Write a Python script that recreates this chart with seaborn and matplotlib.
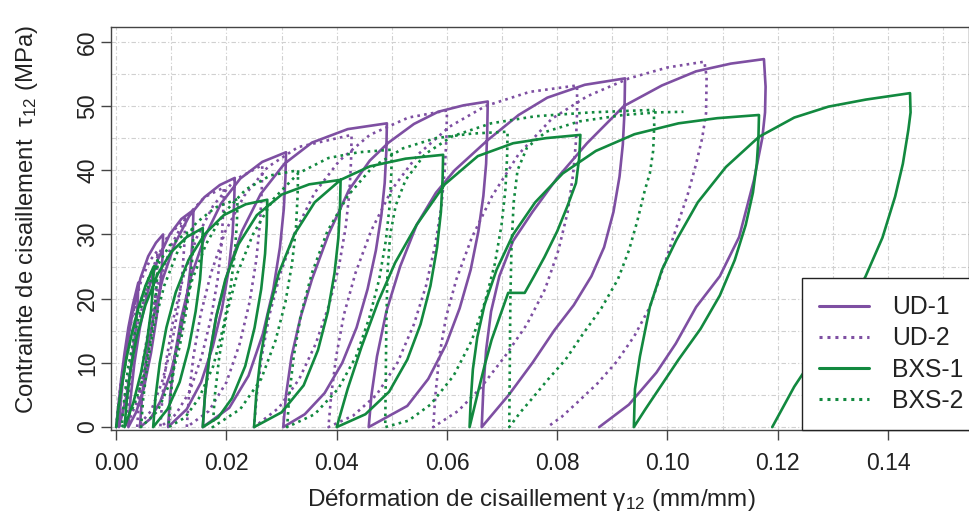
import matplotlib
matplotlib.use("Agg")
import matplotlib.pyplot as plt
from matplotlib.ticker import MultipleLocator, FixedLocator
import pandas as pd
import seaborn as sns

# ---------------- data (strain, stress in MPa) ----------------
ud1 = [
    (0.0000, 0.0), (0.0004, 3.5), (0.0009, 7.5), (0.0015, 11.5), (0.0022, 15.5), (0.0030, 19.0), (0.0040, 22.5),
    (0.0039, 19.5), (0.0035, 15.0), (0.0028, 10.0), (0.0019, 5.0), (0.0011, 2.0), (0.0005, 0.0),
    (0.0008, 4.0), (0.0014, 9.0), (0.0022, 14.0), (0.0032, 19.0), (0.0044, 23.2), (0.0058, 26.6), (0.0072, 28.7), (0.0085, 30.0),
    (0.0084, 26.5), (0.0080, 22.0), (0.0073, 17.0), (0.0063, 11.5), (0.0050, 6.0), (0.0036, 2.3), (0.0022, 0.0),
    (0.0026, 4.5), (0.0033, 10.0), (0.0043, 15.5), (0.0057, 21.0), (0.0075, 26.0), (0.0097, 30.0), (0.0118, 32.4), (0.0140, 33.8),
    (0.0139, 30.0), (0.0135, 25.0), (0.0127, 19.5), (0.0115, 14.0), (0.0099, 8.5), (0.0080, 4.0), (0.0062, 1.3), (0.0043, 0.0),
    (0.0047, 5.0), (0.0055, 11.0), (0.0067, 17.0), (0.0084, 23.0), (0.0106, 28.5), (0.0132, 32.8), (0.0160, 35.8), (0.0188, 37.7), (0.0215, 38.8),
    (0.0214, 35.0), (0.0211, 30.0), (0.0204, 24.5), (0.0192, 18.5), (0.0175, 12.5), (0.0154, 7.0), (0.0128, 2.8), (0.0094, 0.0),
    (0.0098, 5.0), (0.0106, 11.0), (0.0118, 17.0), (0.0136, 23.5), (0.0160, 29.5), (0.0190, 34.8), (0.0225, 38.7), (0.0265, 41.3), (0.0308, 42.8),
    (0.0307, 39.0), (0.0304, 34.0), (0.0297, 28.0), (0.0285, 21.5), (0.0266, 14.5), (0.0240, 8.0), (0.0205, 3.0), (0.0157, 0.0),
    (0.0161, 5.0), (0.0169, 11.0), (0.0182, 17.5), (0.0202, 24.0), (0.0228, 30.5), (0.0262, 36.3), (0.0305, 41.0), (0.0355, 44.3), (0.0420, 46.4), (0.0491, 47.3),
    (0.0490, 43.0), (0.0487, 38.0), (0.0481, 33.0), (0.0471, 27.5), (0.0456, 21.5), (0.0436, 15.5), (0.0410, 10.0), (0.0378, 5.3), (0.0342, 2.0), (0.0303, 0.0),
    (0.0308, 5.0), (0.0318, 11.0), (0.0334, 17.0), (0.0355, 23.0), (0.0385, 30.0), (0.0422, 36.9), (0.0460, 41.5), (0.0494, 44.3), (0.0540, 47.2), (0.0584, 49.1), (0.0630, 50.1), (0.0674, 50.7),
    (0.0673, 46.0), (0.0671, 41.0), (0.0666, 36.0), (0.0657, 30.5), (0.0643, 24.5), (0.0623, 18.5), (0.0598, 12.8), (0.0566, 7.5), (0.0528, 3.3), (0.0458, 0.0),
    (0.0463, 5.0), (0.0473, 11.0), (0.0490, 18.0), (0.0515, 25.0), (0.0545, 31.5), (0.0580, 36.5), (0.0614, 40.0), (0.0674, 44.7), (0.0730, 48.6), (0.0782, 51.3), (0.0850, 53.3), (0.0923, 54.3),
    (0.0922, 49.0), (0.0919, 44.0), (0.0913, 39.0), (0.0902, 33.5), (0.0885, 28.0), (0.0862, 23.5), (0.0830, 19.0), (0.0795, 15.1), (0.0755, 10.0), (0.0712, 5.0), (0.0663, 0.0),
    (0.0666, 6.0), (0.0671, 12.0), (0.0680, 18.0), (0.0695, 23.5), (0.0720, 29.0), (0.0755, 33.5), (0.0800, 38.8), (0.0854, 44.2), (0.0921, 50.0), (0.0990, 53.2), (0.1052, 55.4), (0.1115, 56.6), (0.1175, 57.3),
    (0.1178, 53.0), (0.1177, 49.0), (0.1172, 45.0), (0.1157, 38.5), (0.1130, 29.6), (0.1095, 23.5), (0.1052, 18.7), (0.1015, 13.0), (0.0980, 8.5), (0.0930, 3.5), (0.0876, 0.0),
]

ud2 = [
    (0.0000, 0.0), (0.0004, 3.5), (0.0009, 7.5), (0.0016, 11.5), (0.0025, 16.0), (0.0035, 20.0),
    (0.0034, 16.5), (0.0030, 12.5), (0.0023, 8.0), (0.0014, 3.5), (0.0004, 0.0),
    (0.0008, 4.0), (0.0014, 9.0), (0.0022, 14.0), (0.0033, 19.0), (0.0046, 23.0), (0.0060, 25.8), (0.0075, 27.5),
    (0.0074, 24.0), (0.0070, 19.5), (0.0063, 14.5), (0.0052, 9.0), (0.0038, 4.0), (0.0018, 0.0),
    (0.0022, 4.5), (0.0029, 10.0), (0.0039, 15.5), (0.0053, 21.0), (0.0071, 25.8), (0.0092, 29.5), (0.0125, 32.5),
    (0.0124, 29.0), (0.0120, 24.0), (0.0112, 18.5), (0.0100, 12.5), (0.0083, 7.0), (0.0063, 2.5), (0.0038, 0.0),
    (0.0042, 5.0), (0.0050, 11.0), (0.0062, 17.0), (0.0079, 23.0), (0.0101, 28.5), (0.0127, 32.7), (0.0160, 35.8), (0.0195, 37.3),
    (0.0194, 33.5), (0.0191, 28.5), (0.0184, 23.0), (0.0172, 17.0), (0.0155, 11.0), (0.0133, 5.5), (0.0108, 2.0), (0.0080, 0.0),
    (0.0084, 5.0), (0.0092, 11.0), (0.0104, 17.0), (0.0122, 23.5), (0.0146, 29.5), (0.0176, 34.5), (0.0215, 38.5), (0.0265, 40.8),
    (0.0264, 37.0), (0.0261, 32.0), (0.0254, 26.0), (0.0242, 19.5), (0.0224, 13.0), (0.0200, 7.0), (0.0168, 2.5), (0.0128, 0.0),
    (0.0132, 5.0), (0.0140, 11.0), (0.0153, 17.5), (0.0172, 24.0), (0.0198, 30.5), (0.0232, 36.0), (0.0275, 40.5), (0.0330, 43.6), (0.0427, 45.5),
    (0.0426, 41.5), (0.0423, 36.5), (0.0416, 31.0), (0.0404, 25.0), (0.0386, 19.0), (0.0362, 13.0), (0.0332, 7.5), (0.0295, 3.0), (0.0250, 0.0),
    (0.0255, 5.0), (0.0264, 11.0), (0.0278, 17.5), (0.0298, 24.0), (0.0325, 30.5), (0.0360, 36.5), (0.0405, 41.5), (0.0460, 45.5), (0.0530, 48.2), (0.0600, 49.3),
    (0.0599, 45.0), (0.0596, 40.0), (0.0590, 34.5), (0.0579, 28.5), (0.0562, 22.0), (0.0540, 16.0), (0.0510, 10.0), (0.0472, 5.0), (0.0430, 1.8), (0.0385, 0.0),
    (0.0390, 5.0), (0.0399, 11.0), (0.0413, 17.5), (0.0434, 24.0), (0.0462, 30.5), (0.0500, 37.0), (0.0548, 42.5), (0.0605, 46.8), (0.0670, 50.0), (0.0750, 52.2), (0.0836, 53.2),
    (0.0836, 49.0), (0.0834, 44.5), (0.0829, 39.5), (0.0819, 33.5), (0.0802, 27.5), (0.0778, 21.5), (0.0745, 16.0), (0.0705, 11.0), (0.0660, 6.0), (0.0620, 2.5), (0.0575, 0.0),
    (0.0579, 5.0), (0.0586, 11.0), (0.0598, 17.0), (0.0617, 23.0), (0.0645, 29.5), (0.0682, 36.0), (0.0730, 42.5), (0.0790, 48.0), (0.0854, 51.5), (0.0930, 54.3), (0.1000, 56.0), (0.1067, 56.9),
    (0.1071, 54.5), (0.1070, 48.9), (0.1063, 45.0), (0.1052, 41.0), (0.1036, 36.0), (0.1016, 31.0), (0.0993, 25.0), (0.0968, 18.7), (0.0940, 14.2), (0.0908, 10.2), (0.0873, 6.8), (0.0836, 3.8), (0.0808, 1.6), (0.0782, 0.0),
]

bxs1 = [
    (0.0000, 0.0), (0.0004, 3.0), (0.0010, 6.5), (0.0018, 10.5), (0.0028, 14.5), (0.0040, 18.5), (0.0053, 22.0), (0.0068, 25.0),
    (0.0067, 22.0), (0.0063, 18.0), (0.0056, 13.5), (0.0045, 8.5), (0.0031, 3.8), (0.0015, 0.0),
    (0.0019, 4.0), (0.0026, 9.0), (0.0037, 14.0), (0.0053, 19.0), (0.0075, 23.8), (0.0100, 27.3), (0.0128, 29.6), (0.0157, 31.0),
    (0.0156, 27.5), (0.0152, 23.0), (0.0144, 18.0), (0.0132, 12.5), (0.0115, 7.0), (0.0093, 2.8), (0.0067, 0.0),
    (0.0071, 4.5), (0.0079, 10.0), (0.0091, 15.5), (0.0108, 21.0), (0.0131, 26.0), (0.0160, 30.0), (0.0195, 33.0), (0.0235, 34.7), (0.0274, 35.4),
    (0.0273, 31.5), (0.0270, 27.0), (0.0263, 21.5), (0.0251, 15.5), (0.0234, 9.5), (0.0210, 4.5), (0.0185, 1.5), (0.0157, 0.0),
    (0.0161, 5.0), (0.0169, 11.0), (0.0181, 17.0), (0.0198, 23.0), (0.0222, 28.5), (0.0255, 33.0), (0.0300, 36.2), (0.0350, 37.8), (0.0407, 38.5),
    (0.0406, 34.5), (0.0403, 29.5), (0.0396, 24.0), (0.0384, 18.0), (0.0366, 12.0), (0.0340, 6.5), (0.0300, 2.3), (0.0250, 0.0),
    (0.0254, 5.0), (0.0262, 11.0), (0.0275, 17.5), (0.0295, 24.0), (0.0323, 30.0), (0.0360, 35.0), (0.0407, 38.5), (0.0460, 40.6), (0.0525, 41.8), (0.0593, 42.4),
    (0.0592, 38.5), (0.0589, 33.5), (0.0582, 28.0), (0.0570, 22.0), (0.0552, 16.0), (0.0528, 10.5), (0.0495, 5.5), (0.0452, 2.0), (0.0400, 0.0),
    (0.0420, 6.0), (0.0445, 12.5), (0.0475, 19.5), (0.0506, 25.6), (0.0545, 31.5), (0.0596, 37.8), (0.0656, 42.2), (0.0720, 44.2), (0.0780, 45.0), (0.0842, 45.5),
    (0.0840, 42.0), (0.0834, 38.0), (0.0818, 34.3), (0.0800, 30.5), (0.0777, 26.5), (0.0758, 23.5), (0.0741, 20.9), (0.0711, 20.9), (0.0695, 17.0), (0.0681, 13.6), (0.0668, 9.5), (0.0655, 5.0), (0.0641, 0.0),
    (0.0643, 4.0), (0.0647, 9.0), (0.0655, 14.0), (0.0668, 19.0), (0.0690, 24.5), (0.0720, 30.0), (0.0760, 35.0), (0.0810, 39.5), (0.0870, 43.0), (0.0940, 45.6), (0.1020, 47.3), (0.1090, 48.1), (0.1166, 48.6),
    (0.1165, 45.0), (0.1162, 41.0), (0.1155, 36.5), (0.1142, 31.5), (0.1122, 26.0), (0.1095, 20.5), (0.1060, 15.3), (0.1020, 10.5), (0.0985, 6.0), (0.0960, 2.8), (0.0939, 0.0),
    (0.0941, 5.9), (0.0950, 11.0), (0.0968, 18.7), (0.0990, 24.5), (0.1016, 29.1), (0.1055, 35.0), (0.1106, 40.5), (0.1166, 45.2), (0.1230, 48.2), (0.1292, 49.9), (0.1360, 51.0), (0.1440, 52.0),
    (0.1441, 49.0), (0.1437, 46.3), (0.1427, 41.0), (0.1413, 35.9), (0.1390, 29.5), (0.1359, 23.4), (0.1320, 17.5), (0.1274, 12.0), (0.1230, 6.3), (0.1190, 0.0),
]

bxs2 = [
    (0.0000, 0.0), (0.0004, 3.0), (0.0010, 6.5), (0.0019, 11.0), (0.0031, 15.5), (0.0046, 20.0), (0.0060, 23.5), (0.0075, 26.0),
    (0.0074, 23.0), (0.0070, 18.5), (0.0062, 13.5), (0.0050, 8.0), (0.0032, 3.3), (0.0010, 0.0),
    (0.0014, 4.0), (0.0021, 9.0), (0.0032, 14.0), (0.0048, 19.5), (0.0070, 24.5), (0.0097, 28.3), (0.0140, 31.0),
    (0.0139, 27.5), (0.0135, 23.0), (0.0127, 18.0), (0.0115, 12.5), (0.0098, 7.0), (0.0075, 2.5), (0.0045, 0.0),
    (0.0049, 4.5), (0.0057, 10.0), (0.0069, 16.0), (0.0087, 22.0), (0.0112, 27.5), (0.0145, 31.8), (0.0180, 34.2), (0.0220, 35.5),
    (0.0219, 32.0), (0.0215, 27.0), (0.0207, 21.5), (0.0194, 15.5), (0.0176, 9.5), (0.0150, 4.5), (0.0125, 1.5), (0.0095, 0.0),
    (0.0099, 5.0), (0.0107, 11.0), (0.0120, 17.0), (0.0138, 23.0), (0.0163, 28.5), (0.0195, 33.3), (0.0235, 37.0), (0.0280, 39.2), (0.0330, 40.0),
    (0.0329, 36.0), (0.0326, 31.0), (0.0319, 25.5), (0.0307, 19.5), (0.0289, 13.5), (0.0263, 7.5), (0.0225, 2.8), (0.0175, 0.0),
    (0.0179, 5.0), (0.0187, 11.0), (0.0200, 17.5), (0.0220, 24.0), (0.0248, 30.0), (0.0285, 35.5), (0.0330, 39.5), (0.0385, 41.9), (0.0440, 42.8), (0.0500, 43.2),
    (0.0499, 39.5), (0.0496, 34.5), (0.0489, 29.0), (0.0477, 23.0), (0.0459, 17.0), (0.0435, 11.0), (0.0403, 6.0), (0.0360, 2.0), (0.0310, 0.0),
    (0.0314, 5.0), (0.0322, 11.0), (0.0335, 17.5), (0.0355, 24.0), (0.0383, 30.5), (0.0420, 36.0), (0.0465, 40.5), (0.0520, 43.4), (0.0580, 45.0), (0.0645, 45.7), (0.0710, 46.0),
    (0.0709, 42.0), (0.0706, 37.0), (0.0699, 31.5), (0.0687, 25.5), (0.0669, 19.5), (0.0645, 13.5), (0.0612, 8.0), (0.0570, 3.5), (0.0530, 1.0), (0.0488, 0.0),
    (0.0489, 8.0), (0.0490, 16.0), (0.0492, 24.0), (0.0497, 30.0), (0.0507, 34.5), (0.0525, 38.5), (0.0560, 42.5), (0.0610, 45.3), (0.0680, 47.3), (0.0760, 48.4), (0.0860, 49.0), (0.0975, 49.4),
    (0.0976, 47.0), (0.0974, 43.0), (0.0968, 39.5), (0.0959, 36.9), (0.0945, 32.0), (0.0930, 27.5), (0.0910, 23.0), (0.0880, 18.5), (0.0845, 14.3), (0.0815, 10.5), (0.0782, 7.3), (0.0755, 4.5), (0.0733, 2.3), (0.0713, 0.0),
    (0.0714, 10.0), (0.0715, 20.0), (0.0717, 28.0), (0.0721, 35.0), (0.0728, 40.0), (0.0745, 43.5), (0.0780, 46.0), (0.0840, 47.6), (0.0920, 48.6), (0.0980, 49.0), (0.1029, 49.1),
]

specimens = ["UD-1", "UD-2", "BXS-1", "BXS-2"]
series = [ud1, ud2, bxs1, bxs2]
x_ticks = [0.00, 0.02, 0.04, 0.06, 0.08, 0.10, 0.12, 0.14]
x_tick_labels = ["0.00", "0.02", "0.04", "0.06", "0.08", "0.10", "0.12", "0.14"]
y_ticks = [0, 10, 20, 30, 40, 50, 60]

# ---------------- styling ----------------
purple = "#7E4FA2"
green = "#12893F"
palette = {"UD-1": purple, "UD-2": purple, "BXS-1": green, "BXS-2": green}
dashes = {"UD-1": "", "UD-2": (1.0, 1.6), "BXS-1": "", "BXS-2": (1.0, 1.6)}

frames = []
for name, pts in zip(specimens, series):
    frames.append(pd.DataFrame({
        "strain": [p[0] for p in pts],
        "stress": [p[1] for p in pts],
        "specimen": name,
    }))
df = pd.concat(frames, ignore_index=True)

sns.set_theme(style="white")
plt.rcParams["font.family"] = ["Liberation Sans", "DejaVu Sans"]
plt.rcParams["mathtext.fontset"] = "custom"
plt.rcParams["mathtext.rm"] = "Liberation Sans"
plt.rcParams["mathtext.default"] = "regular"

W, H = 970, 517
fig = plt.figure(figsize=(W / 100, H / 100), dpi=100)
ax = fig.add_axes([111 / W, 1 - 430 / H, (969 - 111) / W, (430 - 27) / H])

sns.lineplot(data=df, x="strain", y="stress", hue="specimen", style="specimen",
             hue_order=specimens, style_order=specimens, palette=palette,
             dashes=dashes, sort=False, estimator=None, units="specimen",
             linewidth=1.9, ax=ax)

ax.set_xlim(-0.00095, 0.1547)
ax.set_ylim(-0.45, 62.3)

ax.xaxis.set_major_locator(FixedLocator(x_ticks))
ax.set_xticklabels(x_tick_labels)
ax.xaxis.set_minor_locator(MultipleLocator(0.01))
ax.yaxis.set_major_locator(FixedLocator(y_ticks))
ax.yaxis.set_minor_locator(MultipleLocator(5))
ax.grid(True, which="both", color="#D0D0D0", linestyle=(0, (4, 2, 1, 2)), linewidth=0.8)
ax.set_axisbelow(True)

ax.tick_params(axis="both", which="major", direction="out", length=7, width=1.0,
               color="#444444", labelsize=16.6, labelcolor="#222222", bottom=True, left=True)
ax.tick_params(axis="both", which="minor", length=0)
ax.tick_params(axis="y", which="major", labelrotation=90, pad=1.5)
ax.tick_params(axis="x", which="major", pad=9)
for lab in ax.get_yticklabels():
    lab.set_verticalalignment("center")

for sp in ax.spines.values():
    sp.set_visible(True)
    sp.set_color("#444444")
    sp.set_linewidth(1.0)

ax.set_xlabel("Déformation de cisaillement γ$_{12}$ (mm/mm)", fontsize=17.5, color="#222222")
ax.set_ylabel("Contrainte de cisaillement  τ$_{12}$ (MPa)", fontsize=17.2, color="#222222")
ax.xaxis.set_label_coords(0.49, -0.142)
ax.yaxis.set_label_coords(-0.083, 0.522)

# legend
handles, labels = ax.get_legend_handles_labels()
if ax.get_legend() is not None:
    ax.get_legend().remove()
for h in handles:
    h.set_linewidth(2.2)
leg = fig.legend(handles, labels, loc="lower left", bbox_to_anchor=(802 / W, 1 - 430 / H),
                 bbox_transform=fig.transFigure, frameon=True, fancybox=False, framealpha=1,
                 edgecolor="#222222", fontsize=17.8, handlelength=2.0, handletextpad=0.95,
                 borderpad=0.7, labelspacing=0.29, borderaxespad=0)
leg.get_frame().set_linewidth(1.0)
for t in leg.get_texts():
    t.set_color("#222222")

fig.savefig("out.png", dpi=100)
